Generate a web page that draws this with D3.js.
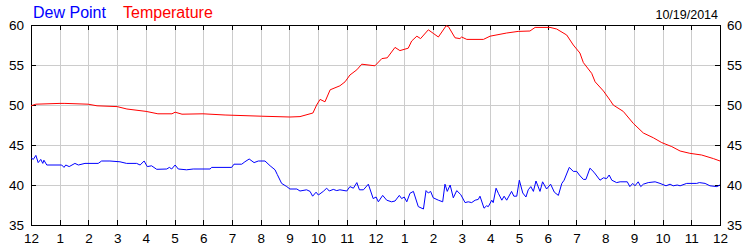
<!DOCTYPE html>
<html>
<head>
<meta charset="utf-8">
<script src="https://cdn.jsdelivr.net/npm/d3@7"></script>
<style>
    body { margin: 0; background: #fff; }
    text { font-family: "Liberation Sans", Arial, sans-serif; }
</style>
</head>
<body>
<div id="chart"></div>
<script>
// hour of day (0 = midnight) and readings
var tempHours = [0, 0.17, 1.01, 1.18, 1.99, 2.30, 3.00, 3.34, 4.01, 4.42, 4.91, 5.02, 5.26, 5.99, 6.76, 8.02,
    9.02, 9.37, 9.82, 9.95, 10.07, 10.24, 10.42, 10.76, 10.94, 11.11, 11.35, 11.52, 11.98, 12.22, 12.41,
    12.68, 12.85, 13.14, 13.26, 13.44, 13.57, 13.84, 14.01, 14.19, 14.46, 14.54, 14.77, 14.94, 15.00,
    15.18, 15.76, 15.99, 16.57, 16.97, 17.38, 17.56, 18.08, 18.31, 18.66, 18.89, 19.12, 19.24, 19.53,
    19.65, 19.94, 20.17, 20.28, 20.63, 20.98, 21.33, 21.68, 21.97, 22.32, 22.61, 22.95, 23.36, 23.77, 24];
var tempValues = [49.9, 50.1, 50.2, 50.2, 50.1, 49.9, 49.8, 49.5, 49.2, 48.9, 48.9, 49.1, 48.85, 48.9, 48.75, 48.6,
    48.5, 48.55, 49.0, 50.0, 50.7, 50.4, 51.9, 52.4, 52.9, 53.75, 54.4, 55.1, 54.9, 55.8, 55.9,
    57.2, 56.8, 57.1, 58.0, 58.6, 58.3, 59.4, 58.96, 58.5, 59.9, 59.8, 58.4, 58.3, 58.5,
    58.2, 58.2, 58.6, 59.0, 59.2, 59.25, 59.7, 59.7, 59.5, 58.75, 57.5, 56.5, 55.3, 53.96,
    52.9, 51.75, 50.6, 50.0, 49.2, 47.7, 46.5, 45.9, 45.3, 44.8, 44.25, 43.96, 43.75, 43.3, 43.0];

var dewHours = [0, 0.08, 0.17, 0.25, 0.34, 0.41, 0.45, 0.55, 1.07, 1.15, 1.21, 1.33, 1.53, 1.65, 1.88, 2.34,
    2.46, 2.75, 3.10, 3.33, 3.68, 3.80, 3.94, 4.05, 4.20, 4.38, 4.73, 4.82, 4.90, 5.02, 5.13, 5.42, 5.65,
    6.24, 6.29, 6.99, 7.07, 7.34, 7.45, 7.60, 7.77, 7.92, 8.15, 8.33, 8.50, 8.58, 8.73, 8.91, 9.02, 9.26,
    9.37, 9.60, 9.72, 9.81, 9.93, 10.01, 10.18, 10.30, 10.39, 10.53, 10.65, 10.76, 11.00, 11.11, 11.23,
    11.35, 11.44, 11.58, 11.75, 11.92, 12.02, 12.10, 12.25, 12.39, 12.56, 12.68, 12.83, 12.91, 13.00,
    13.09, 13.20, 13.32, 13.49, 13.67, 13.76, 13.84, 13.92, 14.01, 14.19, 14.34, 14.42, 14.50, 14.60,
    14.71, 14.83, 14.97, 15.12, 15.23, 15.35, 15.47, 15.58, 15.64, 15.78, 15.87, 15.93, 16.05, 16.10,
    16.20, 16.28, 16.40, 16.48, 16.57, 16.74, 16.82, 16.92, 17.01, 17.13, 17.24, 17.32, 17.41, 17.50,
    17.59, 17.73, 17.82, 17.96, 18.10, 18.23, 18.37, 18.49, 18.57, 18.75, 18.89, 19.01, 19.10, 19.24,
    19.33, 19.47, 19.61, 19.82, 19.94, 20.05, 20.14, 20.23, 20.40, 20.52, 20.77, 20.86, 20.96, 21.04,
    21.15, 21.24, 21.33, 21.50, 21.74, 21.91, 22.12, 22.26, 22.37, 22.51, 22.61, 22.84, 23.19, 23.28,
    23.48, 23.65, 23.89, 24];
var dewValues = [43.4, 43.2, 43.7, 42.8, 43.2, 42.7, 43.1, 42.5, 42.5, 42.2, 42.5, 42.3, 42.7, 42.5, 42.7, 42.7,
    43.0, 43.0, 42.9, 42.7, 42.7, 42.5, 43.0, 42.3, 42.4, 41.96, 42.0, 42.2, 42.0, 42.5, 42.0, 41.9, 42.0,
    42.0, 42.2, 42.2, 42.6, 42.6, 42.9, 43.25, 42.8, 43.0, 43.0, 42.4, 41.9, 41.3, 40.2, 39.8, 39.5, 39.5,
    39.25, 39.4, 39.2, 38.6, 39.1, 38.75, 39.2, 39.6, 39.25, 39.45, 39.3, 39.4, 39.25, 39.8, 39.6,
    40.3, 39.4, 39.4, 40.1, 38.3, 38.5, 37.9, 38.7, 38.1, 37.9, 38.0, 38.7, 38.3, 38.5,
    37.9, 38.96, 39.2, 37.3, 37.0, 39.3, 39.0, 39.2, 38.4, 38.1, 37.9, 40.1, 39.2, 40.0,
    38.4, 39.3, 38.8, 37.8, 37.9, 37.8, 38.1, 38.2, 38.6, 37.1, 37.4, 37.3, 38.1, 37.8,
    39.6, 38.96, 38.1, 38.6, 38.1, 39.2, 38.6, 38.6, 40.6, 39.0, 38.5, 39.4, 39.8, 39.2,
    40.5, 39.2, 40.4, 39.5, 40.1, 39.1, 38.7, 40.2, 40.6, 42.2, 41.7, 41.7, 41.25, 40.7,
    40.7, 42.1, 41.6, 40.6, 40.9, 40.8, 41.25, 40.6, 40.3, 40.4, 40.4, 39.8, 40.2, 39.9,
    40.4, 39.8, 40.1, 40.3, 40.4, 40.2, 39.9, 40.1, 39.9, 40.0, 39.9, 40.2, 40.2, 40.3,
    40.2, 39.9, 39.8, 40.0];

var hourLabels = ["12", "1", "2", "3", "4", "5", "6", "7", "8", "9", "10", "11",
    "12", "1", "2", "3", "4", "5", "6", "7", "8", "9", "10", "11", "12"];
var yTicks = [35, 40, 45, 50, 55, 60];
var dateLabel = "10/19/2014";

var margin = {top: 25, right: 30, bottom: 25, left: 31},
    width = 750 - margin.left - margin.right,
    height = 250 - margin.top - margin.bottom;

var svg = d3.select("#chart")
    .append("svg")
    .attr("width", 750)
    .attr("height", 250)
    .append("g")
    .attr("transform", "translate(" + margin.left + "," + margin.top + ")");

var x = d3.scaleLinear().domain([0, 24]).range([0, width]);
var y = d3.scaleLinear().domain([35, 60]).range([height, 0]);
var hourTicks = d3.range(0, 25);

// grid
svg.append("g")
    .attr("class", "grid")
    .call(d3.axisBottom(x).tickValues(hourTicks).tickSize(height).tickFormat(""))
    .call(function (g) { g.select(".domain").remove(); });
svg.append("g")
    .attr("class", "grid")
    .call(d3.axisLeft(y).tickValues(yTicks).tickSize(-width).tickFormat(""))
    .call(function (g) { g.select(".domain").remove(); });
svg.selectAll(".grid .tick line").attr("stroke", "#cccccc").attr("shape-rendering", "crispEdges");

// axes with inside ticks
svg.append("g")
    .attr("transform", "translate(0," + height + ")")
    .call(d3.axisBottom(x).tickValues(hourTicks).tickSize(-5).tickPadding(8)
        .tickFormat(function (d, i) { return hourLabels[i]; }));
svg.append("g")
    .call(d3.axisTop(x).tickValues(hourTicks).tickSize(-5).tickFormat(""));
svg.append("g")
    .call(d3.axisLeft(y).tickValues(yTicks).tickSize(-5).tickPadding(7));
svg.append("g")
    .attr("transform", "translate(" + width + ",0)")
    .call(d3.axisRight(y).tickValues(yTicks).tickSize(-5).tickPadding(7));

svg.selectAll(".domain").remove();
svg.selectAll(".tick text").attr("font-size", "13.5px").attr("fill", "#000")
    .attr("font-family", "'Liberation Sans', Arial, sans-serif");
svg.selectAll(".tick line").attr("shape-rendering", "crispEdges");

// frame
svg.append("rect")
    .attr("width", width)
    .attr("height", height)
    .attr("fill", "none")
    .attr("stroke", "#000")
    .attr("shape-rendering", "crispEdges");

var line = d3.line()
    .x(function (d) { return x(d[0]); })
    .y(function (d) { return y(d[1]); });

svg.append("path")
    .datum(d3.zip(tempHours, tempValues))
    .attr("fill", "none")
    .attr("stroke", "#ff0000")
    .attr("stroke-width", 1)
    .attr("d", line);

svg.append("path")
    .datum(d3.zip(dewHours, dewValues))
    .attr("fill", "none")
    .attr("stroke", "#0000ff")
    .attr("stroke-width", 1)
    .attr("d", line);

// legend + date
svg.append("text")
    .attr("x", 2)
    .attr("y", -7)
    .attr("font-size", "16px")
    .attr("fill", "#0000ff")
    .text("Dew Point");
svg.append("text")
    .attr("x", 92)
    .attr("y", -7)
    .attr("font-size", "16px")
    .attr("fill", "#ff0000")
    .text("Temperature");
svg.append("text")
    .attr("x", width - 2)
    .attr("y", -6)
    .attr("text-anchor", "end")
    .attr("font-size", "12.5px")
    .attr("fill", "#000")
    .text(dateLabel);
</script>
</body>
</html>
